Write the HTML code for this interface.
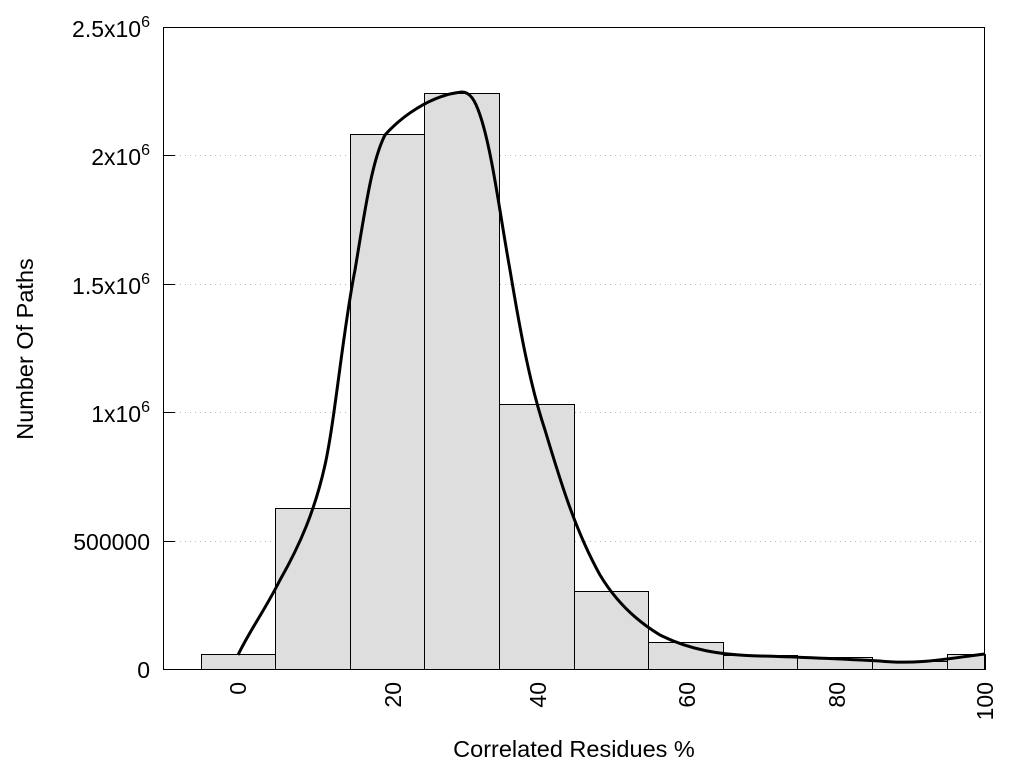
<!DOCTYPE html>
<html><head><meta charset="utf-8"><style>body{margin:0;background:#fff}svg{display:block}text{font-family:"Liberation Sans",sans-serif;fill:#000}</style></head><body>
<svg width="1024" height="768" viewBox="0 0 1024 768">
<g stroke="#bbb" stroke-dasharray="1,4" stroke-width="1">
<line x1="175" y1="155.5" x2="985" y2="155.5"/><line x1="175" y1="284.5" x2="985" y2="284.5"/><line x1="175" y1="412.5" x2="985" y2="412.5"/><line x1="175" y1="541.5" x2="985" y2="541.5"/>
</g>
<g fill="#dedede" stroke="#000" stroke-width="1">
<rect x="201.5" y="654.5" width="74" height="15"/>
<rect x="275.5" y="508.5" width="75" height="161"/>
<rect x="350.5" y="134.5" width="74" height="535"/>
<rect x="424.5" y="93.5" width="75" height="576"/>
<rect x="499.5" y="404.5" width="75" height="265"/>
<rect x="574.5" y="591.5" width="74" height="78"/>
<rect x="648.5" y="642.5" width="75" height="27"/>
<rect x="723.5" y="655.5" width="74" height="14"/>
<rect x="797.5" y="657.5" width="75" height="12"/>
<rect x="872.5" y="661.5" width="75" height="8"/>
<rect x="947.5" y="654.5" width="38" height="15"/>
</g>
<path d="M238,655 C250,630 265,610 280,580 C300,545 315,510 325,465 C335,420 343,330 355,270 C365,210 372,160 385,135 C400,118 430,95 462,92 C470,92 475,100 480,115 C492,150 500,215 510,270 C520,330 530,385 545,430 C560,480 575,530 600,575 C615,600 635,620 660,635 C690,650 720,655 760,656 C800,657 840,659 880,661 C920,665 950,658 985,654" fill="none" stroke="#000" stroke-width="3"/>
<rect x="163.5" y="27.5" width="821" height="642" fill="none" stroke="#000" stroke-width="1"/>
<g stroke="#000" stroke-width="1">
<line x1="163" y1="155.5" x2="175" y2="155.5"/><line x1="163" y1="284.5" x2="175" y2="284.5"/><line x1="163" y1="412.5" x2="175" y2="412.5"/><line x1="163" y1="541.5" x2="175" y2="541.5"/>
</g>
<g font-size="23" text-anchor="end">
<text x="150" y="37">2.5x10<tspan dy="-10" font-size="16">6</tspan></text>
<text x="150" y="165">2x10<tspan dy="-10" font-size="16">6</tspan></text>
<text x="150" y="294">1.5x10<tspan dy="-10" font-size="16">6</tspan></text>
<text x="150" y="422">1x10<tspan dy="-10" font-size="16">6</tspan></text>
<text x="150" y="550">500000</text>
<text x="150" y="678">0</text>
</g>
<g font-size="23" text-anchor="end">
<text transform="translate(246,682) rotate(-90)">0</text>
<text transform="translate(401,682) rotate(-90)">20</text>
<text transform="translate(546,682) rotate(-90)">40</text>
<text transform="translate(695,682) rotate(-90)">60</text>
<text transform="translate(845,682) rotate(-90)">80</text>
<text transform="translate(993,682) rotate(-90)">100</text>
</g>
<text x="574" y="757" font-size="23.5" text-anchor="middle">Correlated Residues %</text>
<text transform="translate(33,349) rotate(-90)" font-size="23.5" text-anchor="middle">Number Of Paths</text>
</svg>
</body></html>
